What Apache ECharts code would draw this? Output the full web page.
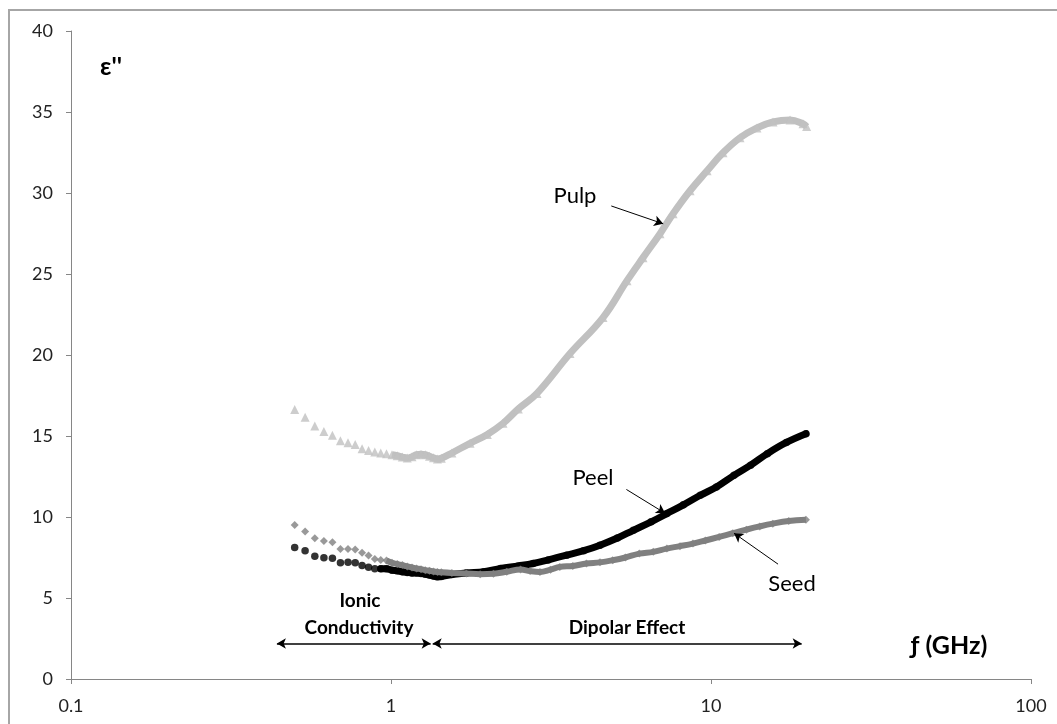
<!DOCTYPE html>
<html>
<head>
<meta charset="utf-8">
<script src="https://cdn.jsdelivr.net/npm/echarts@6/dist/echarts.min.js"></script>
<style>
html,body{margin:0;padding:0;background:#fff;}
#c{width:1057px;height:724px;}
</style>
</head>
<body>
<div id="c"></div>
<script>
// Frequencies in GHz (low-frequency measurement grid, then sparser readings)
const pulpFreq = [0.5,0.539,0.578,0.617,0.656,0.695,0.734,0.773,0.812,0.851,0.89,0.929,0.968,1.007,1.046,1.085,1.124,1.163,1.202,1.241,1.28,1.319,1.358,1.397,1.436,1.55,1.766,2.0,2.239,2.5,2.859,3.626,4.597,5.464,6.131,6.93,7.61,8.6,9.72,10.9,12.32,13.92,15.62,17.66,19.39,19.9];
const pulpVal  = [16.64,16.15,15.61,15.28,15.04,14.71,14.59,14.47,14.22,14.10,14.01,13.95,13.90,13.85,13.78,13.70,13.64,13.72,13.85,13.88,13.85,13.75,13.65,13.58,13.62,13.95,14.55,15.1,15.78,16.67,17.63,20.09,22.31,24.59,26.01,27.49,28.72,30.14,31.37,32.48,33.41,34.02,34.39,34.51,34.27,34.1];

const peelFreq = [0.5,0.539,0.578,0.617,0.656,0.695,0.734,0.773,0.812,0.851,0.89,0.929,0.968,1.007,1.046,1.085,1.124,1.163,1.202,1.241,1.28,1.319,1.358,1.397,1.436,1.55,1.72,1.95,2.2,2.5,2.78,3.1,3.54,4.0,4.5,5.1,5.72,6.5,7.28,8.2,9.26,10.4,11.8,13.3,15.0,17.2,19.8];
const peelVal  = [8.12,7.91,7.58,7.49,7.45,7.17,7.21,7.17,7.00,6.90,6.80,6.80,6.80,6.72,6.68,6.62,6.58,6.55,6.55,6.52,6.47,6.42,6.36,6.31,6.33,6.45,6.55,6.62,6.82,6.98,7.13,7.35,7.64,7.92,8.26,8.7,9.18,9.7,10.21,10.75,11.34,11.85,12.57,13.2,13.91,14.6,15.14];

const seedFreq = [0.5,0.539,0.578,0.617,0.656,0.695,0.734,0.773,0.812,0.851,0.89,0.929,0.968,1.007,1.046,1.085,1.124,1.163,1.202,1.241,1.28,1.319,1.358,1.397,1.436,1.55,1.72,1.9,2.09,2.3,2.54,2.72,2.92,3.15,3.37,3.7,4.08,4.5,4.93,5.4,5.97,6.6,7.28,8.0,8.78,9.6,10.6,11.7,12.9,14.2,15.6,17.5,19.8];
const seedVal  = [9.51,9.10,8.69,8.52,8.44,8.03,8.03,7.99,7.79,7.62,7.41,7.35,7.31,7.17,7.10,7.03,6.95,6.88,6.82,6.78,6.72,6.68,6.64,6.61,6.59,6.55,6.51,6.47,6.50,6.62,6.76,6.66,6.61,6.75,6.92,6.98,7.13,7.2,7.33,7.5,7.74,7.85,8.05,8.2,8.36,8.55,8.77,9.0,9.22,9.42,9.59,9.75,9.83];

// Axis ticks
const xTicks = [0.1, 1, 10, 100];
const yTicks = [0,5,10,15,20,25,30,35,40];

// Annotation arrows [f, value] pairs
const ionicArrow   = [[0.44, 2.19], [1.33, 2.19]];
const dipolarArrow = [[1.35, 2.19], [19.2, 2.19]];
const pulpArrow = [[4.88, 29.2], [7.09, 28.1]];
const peelArrow = [[5.44, 11.7], [7.19, 10.23]];
const seedArrow = [[16.2, 7.09], [11.8, 9.0]];

const FONT = "Lato, 'Open Sans', 'Noto Sans', sans-serif";

const pair = (fs, vs) => fs.map((f, i) => [f, vs[i]]);
const pulpData = pair(pulpFreq, pulpVal);
const peelData = pair(peelFreq, peelVal);
const seedData = pair(seedFreq, seedVal);

const chart = echarts.init(document.getElementById('c'), null, {renderer: 'canvas'});

const arrowLine = (a, syms, w) => ([
  {coord: a[0], symbol: syms[0], symbolSize: [8, 9], lineStyle: {color: '#000', width: w, type: 'solid'}},
  {coord: a[1], symbol: syms[1], symbolSize: [8, 9]}
]);

chart.setOption({
  animation: false,
  backgroundColor: '#fff',
  grid: {left: 71, right: 26, top: 31, bottom: 45, containLabel: false},
  xAxis: {
    type: 'log', logBase: 10, min: 0.1, max: 100,
    axisLine: {show: true, lineStyle: {color: '#868686', width: 1}},
    axisTick: {show: true, length: 5, lineStyle: {color: '#868686'}},
    minorTick: {show: false},
    splitLine: {show: false},
    axisLabel: {
      color: '#222', fontSize: 18, fontFamily: FONT, margin: 18,
      formatter: v => String(xTicks.find(t => Math.abs(t - v) / t < 1e-6) ?? v)
    }
  },
  yAxis: {
    type: 'value', min: 0, max: 40, interval: 5,
    axisLine: {show: true, lineStyle: {color: '#868686', width: 1}},
    axisTick: {show: true, length: 5, lineStyle: {color: '#868686'}},
    splitLine: {show: false},
    axisLabel: {color: '#222', fontSize: 18, fontFamily: FONT, margin: 18,
      formatter: v => yTicks.includes(v) ? String(v) : ''}
  },
  series: [
    {name: 'Pulp line', type: 'line', data: pulpData.filter(d => d[0] >= 0.99),
     showSymbol: false, smooth: 0.4, lineStyle: {color: '#c0c0c0', width: 7}, z: 2, silent: true},
    {name: 'Pulp', type: 'scatter', data: pulpData, symbol: 'triangle', symbolSize: 9,
     itemStyle: {color: '#c0c0c0'}, z: 2, silent: true},
    {name: 'Peel line', type: 'line', data: peelData.filter(d => d[0] >= 0.92),
     showSymbol: false, smooth: 0.4, lineStyle: {color: '#000', width: 7, cap: 'round'}, z: 3, silent: true},
    {name: 'Peel', type: 'scatter', data: peelData, symbol: 'circle', symbolSize: 7.5,
     itemStyle: {color: '#000'}, z: 3, silent: true},
    {name: 'Seed line', type: 'line', data: seedData.filter(d => d[0] >= 0.95),
     showSymbol: false, smooth: 0.4, lineStyle: {color: '#808080', width: 6}, z: 4, silent: true},
    {name: 'Seed', type: 'scatter', data: seedData, symbol: 'diamond', symbolSize: 8,
     itemStyle: {color: '#808080'}, z: 4, silent: true,
     markLine: {
       silent: true, animation: false, precision: 4,
       label: {show: false},
       emphasis: {disabled: true},
       data: [
         arrowLine(ionicArrow, ['arrow', 'arrow'], 1.5),
         arrowLine(dipolarArrow, ['arrow', 'arrow'], 1.5),
         arrowLine(pulpArrow, ['none', 'arrow'], 1),
         arrowLine(peelArrow, ['none', 'arrow'], 1),
         arrowLine(seedArrow, ['none', 'arrow'], 1)
       ]
     }}
  ],
  graphic: [
    {type: 'rect', shape: {x: 9, y: 10, width: 1100, height: 780},
     style: {fill: null, stroke: '#a6a6a6', lineWidth: 2}, silent: true, z: 0},
    {type: 'text', x: 111, y: 67, style: {text: "ε''", font: 'bold 25px ' + FONT, fill: '#000', align: 'center', verticalAlign: 'middle'}},
    {type: 'text', x: 575, y: 196, style: {text: 'Pulp', font: '22px ' + FONT, fill: '#000', align: 'center', verticalAlign: 'middle'}},
    {type: 'text', x: 593, y: 478, style: {text: 'Peel', font: '22px ' + FONT, fill: '#000', align: 'center', verticalAlign: 'middle'}},
    {type: 'text', x: 792, y: 584, style: {text: 'Seed', font: '22px ' + FONT, fill: '#000', align: 'center', verticalAlign: 'middle'}},
    {type: 'text', x: 360, y: 601, style: {text: 'Ionic', font: 'bold 19px ' + FONT, fill: '#000', align: 'center', verticalAlign: 'middle'}},
    {type: 'text', x: 359, y: 628, style: {text: 'Conductivity', font: 'bold 19px ' + FONT, fill: '#000', align: 'center', verticalAlign: 'middle'}},
    {type: 'text', x: 627, y: 628, style: {text: 'Dipolar Effect', font: 'bold 19px ' + FONT, fill: '#000', align: 'center', verticalAlign: 'middle'}},
    {type: 'text', x: 949, y: 646, style: {text: 'ƒ (GHz)', font: 'bold 25px ' + FONT, fill: '#000', align: 'center', verticalAlign: 'middle'}}
  ]
});
</script>
</body>
</html>
